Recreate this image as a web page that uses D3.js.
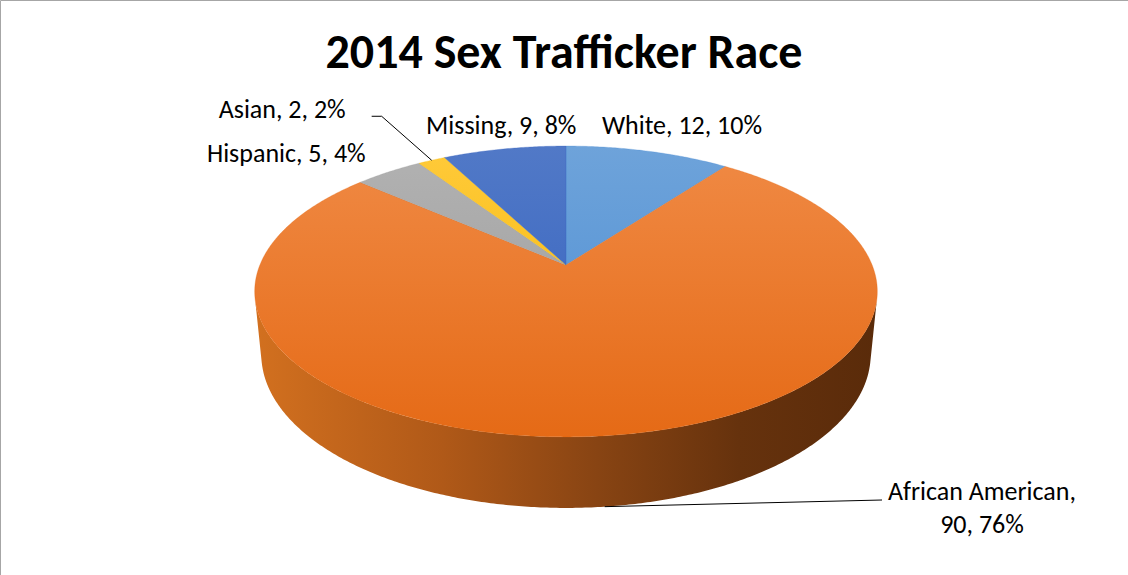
<!DOCTYPE html>
<html>
<head>
<meta charset="utf-8">
<script src="https://cdn.jsdelivr.net/npm/d3@7"></script>
<style>
  html, body { margin: 0; padding: 0; background: #fff; }
  svg { display: block; }
  text { font-family: Carlito, Calibri, Lato, sans-serif; fill: #000; }
</style>
</head>
<body>
<div id="chart"></div>
<script>
let width = 1128
let height = 575

// data
const categories = ['White', 'African American', 'Hispanic', 'Asian', 'Missing']
const counts = [12, 90, 5, 2, 9]
const topColors = [['#6ea3da', '#4b8dd3'], ['#f08a45', '#e56a16'], ['#b2b2b2', '#9a9a9a'], ['#ffca3a', '#f3b600'], ['#5179c7', '#3260bf']]
const titleText = '2014 Sex Trafficker Race'

// label layout: anchor type, offset from slice midpoint on the rim
const labelLayout = [
  { anchor: 'middle', dx: 34, dy: -17 },
  { anchor: 'middle', dx: 0, dy: 0 },
  { anchor: 'end', dx: -23, dy: -10 },
  { anchor: 'end', dx: -87, dy: -43 },
  { anchor: 'middle', dx: -3, dy: -15 }
]

let total = d3.sum(counts)
let data = categories.map((c, i) => ({ name: c, value: counts[i], pct: Math.round(counts[i] / total * 100) }))

// simple perspective camera for the tilted pie
let cam = { cx: 566, cy: 265, fx: 1500, fy: 1523, d: 4.9, tilt: Math.asin(0.4524), thick: 0.228 }
let cosT = Math.cos(cam.tilt), sinT = Math.sin(cam.tilt)

function project(theta, y) {
  let x = Math.sin(theta), z = -Math.cos(theta)
  let up = y * cosT - z * sinT
  let depth = cam.d - (y * sinT + z * cosT)
  return [cam.cx + cam.fx * x / depth, cam.cy - cam.fy * up / depth]
}

function arcPoints(a0, a1, y) {
  let n = Math.max(2, Math.ceil(Math.abs(a1 - a0) / (Math.PI / 360)))
  return d3.range(n + 1).map(i => project(a0 + (a1 - a0) * i / n, y))
}

let svg = d3.select('#chart')
            .append('svg')
            .attr('width', width)
            .attr('height', height)

svg.append('rect').attr('width', width).attr('height', height).attr('fill', '#fff')
svg.append('path')
    .attr('d', 'M0.5,' + height + 'V0.5H' + width)
    .attr('fill', 'none')
    .attr('stroke', '#a6a6a6')
    .attr('stroke-width', 1)

let defs = svg.append('defs')
let topY = project(0, 0)[1], botY = project(Math.PI, 0)[1]

topColors.forEach((c, i) => {
  let g = defs.append('linearGradient')
              .attr('id', 'top' + i)
              .attr('gradientUnits', 'userSpaceOnUse')
              .attr('x1', 0).attr('x2', 0)
              .attr('y1', topY).attr('y2', botY)
  g.append('stop').attr('offset', '0%').attr('stop-color', c[0])
  g.append('stop').attr('offset', '100%').attr('stop-color', c[1])
})

let wallGrad = defs.append('linearGradient')
                   .attr('id', 'wall')
                   .attr('gradientUnits', 'userSpaceOnUse')
                   .attr('x1', cam.cx - 310).attr('x2', cam.cx + 310)
                   .attr('y1', 0).attr('y2', 0)
wallGrad.selectAll('stop')
        .data([['0%', '#d2701f'], ['30%', '#b05918'], ['55%', '#884413'], ['78%', '#66320d'], ['100%', '#5a2b0a']])
        .enter()
        .append('stop')
        .attr('offset', d => d[0])
        .attr('stop-color', d => d[1])

let pie = d3.pie().sort(null).value(d => d.value).startAngle(0).endAngle(2 * Math.PI)
let arcs = pie(data)

let line = d3.line()

// outer walls, only the part that faces the camera
let k = 1 / (cam.d * cosT)
let vis0 = Math.acos(-k), vis1 = 2 * Math.PI - Math.acos(-k)
let walls = svg.append('g').attr('class', 'walls')
arcs.forEach((a, i) => {
  let s = Math.max(a.startAngle, vis0), e = Math.min(a.endAngle, vis1)
  if (e <= s) return
  let pts = arcPoints(s, e, 0).concat(arcPoints(e, s, -cam.thick))
  walls.append('path')
       .attr('d', line(pts) + 'Z')
       .attr('fill', 'url(#wall)')
})

// top faces
svg.append('g')
    .attr('class', 'slices')
    .selectAll('path')
    .data(arcs)
    .enter()
    .append('path')
    .attr('d', a => line([[cam.cx, cam.cy]].concat(arcPoints(a.startAngle, a.endAngle, 0))) + 'Z')
    .attr('fill', (a, i) => 'url(#top' + i + ')')
    .attr('stroke', (a, i) => topColors[i][1])
    .attr('stroke-width', 0.3)

// title
svg.append('text')
    .attr('x', 564)
    .attr('y', 68)
    .attr('text-anchor', 'middle')
    .style('font-size', '48px')
    .style('font-weight', 'bold')
    .text(titleText)

// data labels
let labels = svg.append('g').attr('class', 'labels')
arcs.forEach((a, i) => {
  let mid = (a.startAngle + a.endAngle) / 2
  let d = a.data
  let lay = labelLayout[i]
  if (d.name === 'African American') {
    let p = project(mid, -cam.thick)
    labels.append('path')
          .attr('d', line([p, [882, 500]]))
          .attr('fill', 'none')
          .attr('stroke', '#000')
          .attr('stroke-width', 1)
    let t = labels.append('text')
                  .attr('text-anchor', 'middle')
                  .style('font-size', '26px')
    t.append('tspan').attr('x', 982).attr('y', 500).text(d.name + ',')
    t.append('tspan').attr('x', 982).attr('y', 533).text(d.value + ', ' + d.pct + '%')
    return
  }
  let p = project(mid, 0)
  let lx = p[0] + lay.dx, ly = p[1] + lay.dy
  if (d.name === 'Asian') {
    labels.append('path')
          .attr('d', line([[p[0], p[1]], [lx + 37, ly - 1], [lx + 27, ly - 1]]))
          .attr('fill', 'none')
          .attr('stroke', '#000')
          .attr('stroke-width', 1)
    lx = lx + 1
    ly = ly + 1
  }
  labels.append('text')
        .attr('x', lx)
        .attr('y', ly)
        .attr('text-anchor', lay.anchor)
        .style('font-size', '26px')
        .text(d.name + ', ' + d.value + ', ' + d.pct + '%')
})
</script>
</body>
</html>
